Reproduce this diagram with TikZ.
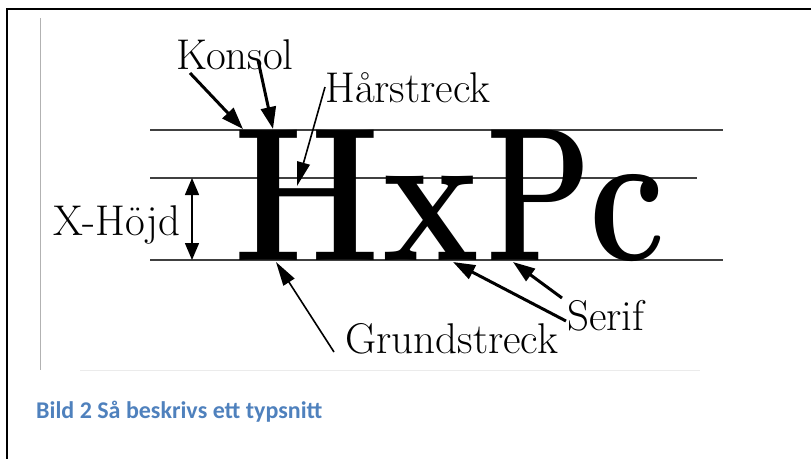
\documentclass[tikz,border=0pt]{standalone}
\usepackage{fontspec}
\newfontfamily\capfont{Carlito}
\usetikzlibrary{arrows.meta}
\definecolor{capblue}{HTML}{4F81BD}
\begin{document}
\begin{tikzpicture}[x=1pt,y=-1pt,
  big/.style={inner sep=0pt,anchor=base west,font=\fontsize{190}{190}\selectfont\bfseries},
  lbl/.style={inner sep=0pt,anchor=base west,font=\fontsize{43}{43}\selectfont},
  guide/.style={line width=1.3pt,black!75},
  thickarr/.style={line width=3pt,-{Triangle[length=22pt,width=15pt]}},
  thinarr/.style={line width=1.6pt,-{Triangle[length=24pt,width=13pt]}},
  dblarr/.style={line width=1.5pt,{Triangle[length=17pt,width=14pt]}-{Triangle[length=17pt,width=14pt]}},
]
\useasboundingbox (0,0) rectangle (811,458);
% frame
\draw[line width=2.5pt] (7,470) -- (7,9) -- (830,9);
% faint picture edges
\draw[black!30,line width=0.6pt] (40,18) -- (40,370);
\draw[black!8,line width=0.8pt] (80,370) -- (700,370);
% guide lines
\draw[guide] (150,130) -- (723,130);
\draw[guide] (150,178) -- (697,178);
\draw[guide] (150,260) -- (723,260);
% big letters
\node[big] (H) at (233,260) {\scalebox{0.88}[1]{H}};
\node[big] (x) at (382,260) {\scalebox{0.86}[1]{x}};
\node[big] (P) at (486,260) {\scalebox{0.72}[1]{P}};
\node[big] (c) at (589,260) {\scalebox{0.8}[1]{c}};
% labels
\node[lbl] (konsol) at (176,69) {Konsol};
\node[lbl] (har) at (325,102) {Hårstreck};
\node[lbl] (xh) at (53,235) {X-Höjd};
\node[lbl] (grund) at (345,353) {Grundstreck};
\node[lbl] (serif) at (567,330) {Serif};
% arrow ends
\coordinate (k1s) at (190,73); \coordinate (k1t) at (243,129);
\coordinate (k2s) at (258,60); \coordinate (k2t) at (273,129);
\coordinate (hs) at (325,87); \coordinate (ht) at (297,186);
\coordinate (xt) at (192,178); \coordinate (xb) at (192,260);
\coordinate (gs) at (334,352); \coordinate (gt) at (276,262);
\coordinate (s1s) at (566,321); \coordinate (s1t) at (453,262);
\coordinate (s2s) at (562,298); \coordinate (s2t) at (513,262);
% arrows
\draw[thickarr] (k1s) -- (k1t);
\draw[thickarr] (k2s) -- (k2t);
\draw[thinarr] (hs) -- (ht);
\draw[dblarr] (xt) -- (xb);
\draw[thinarr] (gs) -- (gt);
\draw[thickarr] (s1s) -- (s1t);
\draw[thickarr] (s2s) -- (s2t);
% caption
\node[anchor=base west,inner sep=0pt,font=\capfont\bfseries\fontsize{24}{24}\selectfont,text=capblue] (cap) at (36,418) {Bild 2 Så beskrivs ett typsnitt};
\end{tikzpicture}
\end{document}
